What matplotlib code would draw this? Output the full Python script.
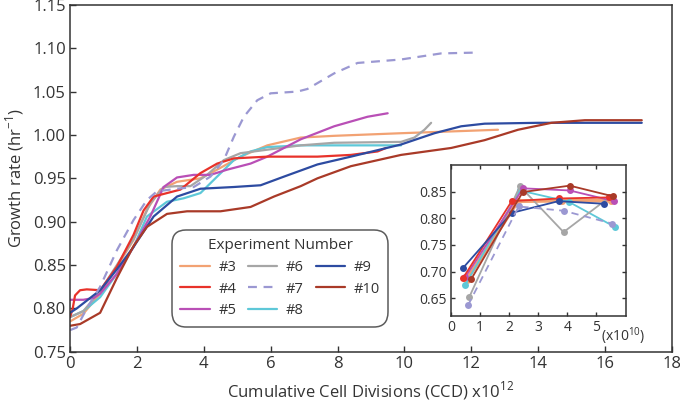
import matplotlib
matplotlib.use("Agg")
import matplotlib.pyplot as plt

plt.rcParams["font.family"] = ["Open Sans", "DejaVu Sans"]
plt.rcParams["text.color"] = "#333333"
plt.rcParams["axes.labelcolor"] = "#333333"
plt.rcParams["xtick.color"] = "#333333"
plt.rcParams["ytick.color"] = "#333333"

# ---- main panel: growth rate vs cumulative cell divisions (x10^12) ----
x3 = [0, 0.4, 0.9, 1.4, 1.9, 2.3, 2.7, 3.2, 3.9, 4.4, 5.1, 5.9, 6.9, 7.9, 9.9, 12.8]
y3 = [0.785, 0.794, 0.817, 0.848, 0.879, 0.914, 0.937, 0.946, 0.950, 0.960,
      0.975, 0.988, 0.997, 0.999, 1.002, 1.006]

x4 = [0, 0.08, 0.15, 0.3, 0.5, 0.9, 1.4, 1.9, 2.2, 2.5, 2.9, 3.3, 3.9, 4.4,
      4.9, 5.9, 7.4, 8.4, 9.2, 9.45]
y4 = [0.79, 0.80, 0.815, 0.821, 0.822, 0.821, 0.848, 0.885, 0.913, 0.929,
      0.933, 0.937, 0.956, 0.967, 0.973, 0.975, 0.975, 0.977, 0.981, 0.985]

x5 = [0, 0.4, 0.7, 0.9, 1.4, 1.9, 2.4, 2.8, 3.2, 3.7, 4.2, 4.7, 5.4, 5.9,
      6.9, 7.9, 8.9, 9.5]
y5 = [0.81, 0.81, 0.812, 0.817, 0.84, 0.871, 0.906, 0.940, 0.951, 0.954,
      0.954, 0.960, 0.967, 0.975, 0.995, 1.010, 1.021, 1.025]

x6 = [0, 0.4, 0.9, 1.4, 1.9, 2.4, 2.8, 3.2, 3.6, 4.1, 4.6, 5.1, 5.9, 6.9,
      7.9, 9.9, 10.3, 10.6, 10.8]
y6 = [0.79, 0.797, 0.82, 0.85, 0.88, 0.921, 0.940, 0.941, 0.941, 0.954,
      0.971, 0.979, 0.983, 0.988, 0.991, 0.992, 0.997, 1.006, 1.014]

x7 = [0, 0.2, 0.5, 0.9, 1.4, 1.9, 2.3, 2.6, 3.2, 3.7, 4.2, 4.6, 4.9, 5.2,
      5.6, 6.0, 6.8, 7.1, 7.9, 8.6, 9.9, 11.1, 12.2]
y7 = [0.775, 0.778, 0.80, 0.825, 0.867, 0.902, 0.925, 0.935, 0.938, 0.940,
      0.952, 0.971, 0.998, 1.021, 1.040, 1.048, 1.050, 1.053, 1.071, 1.083,
      1.087, 1.094, 1.095]

x8 = [0, 0.4, 0.9, 1.4, 1.9, 2.3, 2.9, 3.4, 3.9, 4.4, 4.9, 5.4, 5.9, 6.9, 8.4, 9.9]
y8 = [0.79, 0.797, 0.813, 0.84, 0.871, 0.906, 0.923, 0.927, 0.933, 0.952,
      0.971, 0.981, 0.986, 0.988, 0.988, 0.988]

x9 = [0, 0.2, 0.9, 1.4, 1.9, 2.5, 3.2, 3.9, 4.9, 5.7, 6.4, 7.4, 8.4, 9.9,
      10.9, 11.7, 12.4, 14.0, 17.1]
y9 = [0.795, 0.80, 0.821, 0.845, 0.871, 0.906, 0.929, 0.938, 0.940, 0.942,
      0.952, 0.966, 0.975, 0.989, 1.002, 1.010, 1.013, 1.014, 1.014]

x10 = [0, 0.3, 0.9, 1.4, 1.9, 2.3, 2.9, 3.5, 4.5, 5.4, 6.1, 6.9, 7.4, 8.4,
       9.9, 11.4, 12.4, 13.4, 14.4, 15.4, 17.1]
y10 = [0.780, 0.782, 0.795, 0.835, 0.872, 0.894, 0.909, 0.912, 0.912, 0.917,
       0.929, 0.941, 0.950, 0.964, 0.977, 0.985, 0.994, 1.006, 1.014, 1.017, 1.017]

# ---- inset: growth rate vs cumulative cell divisions (x10^10) ----
ix3, iy3 = [0.55, 2.3, 3.8, 5.5], [0.685, 0.832, 0.833, 0.833]
ix4, iy4 = [0.42, 2.09, 3.7, 5.44], [0.688, 0.832, 0.837, 0.839]
ix5, iy5 = [0.5, 2.48, 4.08, 5.6], [0.69, 0.856, 0.852, 0.832]
ix6, iy6 = [0.63, 2.37, 3.87, 5.44], [0.652, 0.860, 0.774, 0.839]
ix7, iy7 = [0.59, 2.33, 3.87, 5.54], [0.637, 0.822, 0.814, 0.79]
ix8, iy8 = [0.49, 2.37, 4.04, 5.62], [0.675, 0.852, 0.831, 0.784]
ix9, iy9 = [0.42, 2.09, 3.7, 5.27], [0.707, 0.81, 0.832, 0.827]
ix10, iy10 = [0.70, 2.47, 4.08, 5.57], [0.686, 0.849, 0.861, 0.841]

labels = ["#3", "#4", "#5", "#6", "#7", "#8", "#9", "#10"]
colors = ["#f2a273", "#e8322a", "#b94fb6", "#a6a6a6",
          "#9b98d2", "#5ec8d8", "#2d4ba1", "#a93a28"]
styles = ["-", "-", "-", "-", (0, (4, 3)), "-", "-", "-"]

main_x = [x3, x4, x5, x6, x7, x8, x9, x10]
main_y = [y3, y4, y5, y6, y7, y8, y9, y10]
ins_x = [ix3, ix4, ix5, ix6, ix7, ix8, ix9, ix10]
ins_y = [iy3, iy4, iy5, iy6, iy7, iy8, iy9, iy10]

fig = plt.figure(figsize=(6.8, 4.03), dpi=100)
ax = fig.add_axes([0.103, 0.127, 0.885, 0.861])

# draw order roughly as in the figure
order = [0, 5, 3, 2, 1, 6, 7, 4]
for i in order:
    ax.plot(main_x[i], main_y[i], color=colors[i], linestyle=styles[i],
            lw=1.6, label=labels[i], solid_joinstyle="round",
            solid_capstyle="round")

ax.set_xlim(0, 18)
ax.set_ylim(0.75, 1.15)
ax.set_xticks(range(0, 19, 2))
ax.set_yticks([0.75, 0.80, 0.85, 0.90, 0.95, 1.00, 1.05, 1.10, 1.15])
ax.set_yticklabels(["%.2f" % v for v in ax.get_yticks()])
ax.tick_params(direction="in", length=4, width=1, labelsize=12, pad=3)
for s in ax.spines.values():
    s.set_color("#333333")
    s.set_linewidth(1.1)
ax.set_xlabel("Cumulative Cell Divisions (CCD) x10$^{\\mathregular{12}}$",
              fontsize=12, labelpad=5)
ax.set_ylabel("Growth rate (hr$^{\\mathregular{-1}}$)", fontsize=12, labelpad=5)

handles, labs = ax.get_legend_handles_labels()
hmap = dict(zip(labs, handles))
leg = ax.legend([hmap[l] for l in labels], labels, ncol=3,
                title="Experiment Number", title_fontsize=11, fontsize=10.5,
                loc="upper left", bbox_to_anchor=(0.169, 0.352),
                frameon=True, fancybox=True, handlelength=2.0,
                handletextpad=0.6, columnspacing=0.8, labelspacing=0.45,
                borderpad=0.6, borderaxespad=0)
leg.get_frame().set_edgecolor("#333333")
leg.get_frame().set_linewidth(1.1)
leg.get_frame().set_boxstyle("round,pad=0.0,rounding_size=1.0")

# inset
ins = fig.add_axes([0.663, 0.216, 0.257, 0.375])
for i in order:
    lw = 2.8 if i == 0 else 1.3
    ins.plot(ins_x[i], ins_y[i], color=colors[i], linestyle=styles[i], lw=lw,
             marker="o", markersize=5, markeredgewidth=0)
ins.set_xlim(0, 6)
ins.set_ylim(0.617, 0.90)
ins.set_xticks([0, 1, 2, 3, 4, 5])
ins.set_yticks([0.65, 0.70, 0.75, 0.80, 0.85])
ins.set_yticklabels(["0.65", "0.70", "0.75", "0.80", "0.85"])
ins.tick_params(direction="in", length=3, width=1, labelsize=10, pad=3,
                top=True, right=True)
for s in ins.spines.values():
    s.set_color("#333333")
    s.set_linewidth(1.1)
ins.text(5.15, 0.60, "(x10$^{\\mathregular{10}}$)", fontsize=10,
         ha="left", va="top", color="#333333")

fig.savefig("out.png", dpi=100)
